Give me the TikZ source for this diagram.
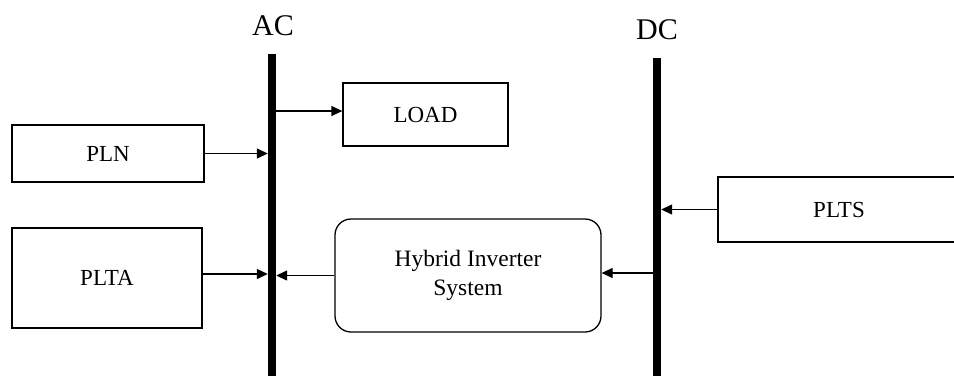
\documentclass[tikz,border=0pt]{standalone}
\usepackage{fontspec}
\setmainfont{Liberation Serif}
\usetikzlibrary{arrows.meta}
\tikzset{
  box/.style={draw, line width=1.3pt, inner sep=0pt, font=\fontsize{23}{27}\selectfont},
  rbox/.style={box, rounded corners=16pt, align=center, font=\fontsize{23.5}{29}\selectfont},
  bus/.style={fill=black, draw=none, inner sep=0pt, minimum width=8pt},
  buslabel/.style={font=\fontsize{30}{32}\selectfont},
  arr/.style={line width=1.3pt, -{Triangle[length=11pt,width=10pt]}}
}
\begin{document}
\begin{tikzpicture}[x=1pt,y=-1pt]
\useasboundingbox (0,0) rectangle (954,376);
\clip (0,0) rectangle (954,376);
% buses
\node[bus, minimum height=322pt] (acbar) at (272,215) {};
\node[bus, minimum height=318pt] (dcbar) at (657,217) {};
\node[buslabel] (aclbl) at (273,26) {AC};
\node[buslabel] (dclbl) at (657,30) {DC};
% boxes
\node[box, minimum width=165pt, minimum height=63pt] (LOAD) at (425.5,114.5) {LOAD};
\node[box, minimum width=192pt, minimum height=57pt] (PLN) at (108,153.5) {PLN};
\node[box, minimum width=190pt, minimum height=100pt] (PLTA) at (107,278) {PLTA};
\node[rbox, minimum width=266pt, minimum height=113pt] (HIS) at (468,275.5) {Hybrid Inverter\\System};
\node[box, minimum width=242pt, minimum height=65pt] (PLTS) at (839,209.5) {PLTS};
% connectors
\draw[arr] ([yshift=3.5pt]LOAD.west -| acbar.east) -- ([yshift=3.5pt]LOAD.west);
\draw[arr] (PLN.east) -- (PLN.east -| acbar.west);
\draw[arr] ([yshift=4pt]PLTA.east) -- ([yshift=4pt]PLTA.east -| acbar.west);
\draw[arr] (HIS.west) -- (HIS.west -| acbar.east);
\draw[arr] ([yshift=2.5pt]HIS.east -| dcbar.west) -- ([yshift=2.5pt]HIS.east);
\draw[arr] (PLTS.west) -- (PLTS.west -| dcbar.east);
\end{tikzpicture}
\end{document}
